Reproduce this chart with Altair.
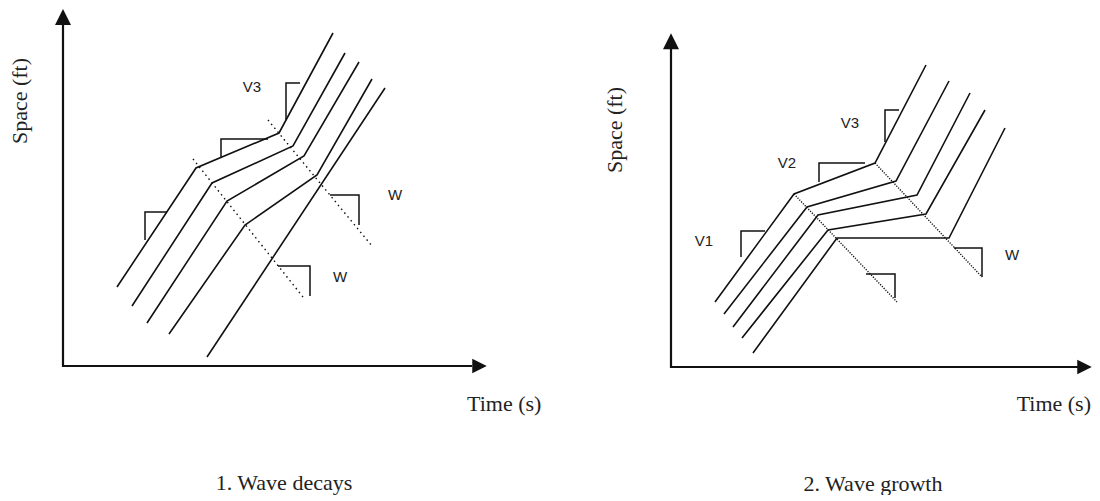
import altair as alt
import pandas as pd

# ---------------- Panel 1: wave decays (time t, space s; origin at axis corner) -------------
P1_LINES_T = [[54, 133, 216, 270], [69, 149, 230, 282], [84, 164, 241, 296], [106, 182, 254, 309], [144, 322]]
P1_LINES_S = [[79, 198, 233, 333], [60, 183, 220, 313], [43, 165, 210, 304], [32, 141, 191, 287], [9, 278]]
P1_DOTS_T = [[130, 240], [205, 309]]
P1_DOTS_S = [[207, 69], [246, 120]]
P1_BRACKETS_T = [[82, 82, 104], [158, 158, 205], [223, 223, 237], [267, 296, 296], [215, 247, 247]]
P1_BRACKETS_S = [[126, 154, 154], [208, 227, 227], [246, 283, 283], [171, 171, 141], [100, 100, 70]]
P1_LABELS = ["V3", "W", "W"]
P1_LABELS_T = [189, 332, 277]
P1_LABELS_S = [279, 171, 89]
P1_AXIS_T = [0, 0, 409]
P1_AXIS_S = [342, 0, 0]
P1_ARROW_UP = (0, 349)
P1_ARROW_RIGHT = (416.5, 0)
P1_DOMAIN_T = [-55, 527]
P1_DOMAIN_S = [-127, 358]
P1_WIDTH = 582
P1_YTITLE = (-36, 265)
P1_XTITLE = (404, -45)
P1_CAPTION = "1. Wave decays"
P1_CAPTION_POS = (221, -124)

# ---------------- Panel 2: wave growth -------------
P2_LINES_T = [[44, 123, 204, 255], [53, 136, 225, 278], [62, 147, 246, 299], [71, 157, 255, 314], [82, 166, 278, 334]]
P2_LINES_S = [[65, 173, 204, 302], [53, 160, 186, 286], [40, 152, 172, 274], [29, 137, 153, 257], [14, 129, 129, 239]]
P2_DOTS_T = [[123, 226], [204, 311]]
P2_DOTS_S = [[173, 65], [204, 90]]
P2_BRACKETS_T = [[70, 70, 94], [148, 148, 194], [214, 214, 228], [283, 311, 311], [195, 224, 224]]
P2_BRACKETS_S = [[110, 136, 136], [185, 204, 204], [225, 257, 257], [119, 119, 90], [93, 93, 69]]
P2_LABELS = ["V1", "V2", "V3", "W"]
P2_LABELS_T = [33, 116, 179, 341]
P2_LABELS_S = [126, 204, 244, 112]
P2_AXIS_T = [0, 0, 407]
P2_AXIS_S = [318, 0, 0]
P2_ARROW_UP = (0, 325.7)
P2_ARROW_RIGHT = (413.5, 0)
P2_DOMAIN_T = [-81, 421]
P2_DOMAIN_S = [-126, 359]
P2_WIDTH = 502
P2_YTITLE = (-49, 237)
P2_XTITLE = (420, -44)
P2_CAPTION = "2. Wave growth"
P2_CAPTION_POS = (202, -124)

HEIGHT = 485
INK = "#111111"
SERIF = "Liberation Serif"
SANS = "Liberation Sans"


def polylines(ts, ss):
    rows = []
    for k, (tl, sl) in enumerate(zip(ts, ss)):
        for i, (t, s) in enumerate(zip(tl, sl)):
            rows.append({"id": k, "i": i, "t": t, "s": s})
    return pd.DataFrame(rows)


def panel(lines_t, lines_s, dots_t, dots_s, br_t, br_s, labels, lab_t, lab_s,
          axis_t, axis_s, arrow_up, arrow_right, dom_t, dom_s, width,
          ytitle, xtitle, xtitle_align, caption, caption_pos, dash):
    X = lambda: alt.X("t:Q", scale=alt.Scale(domain=dom_t, nice=False, zero=False), axis=None)
    Y = lambda: alt.Y("s:Q", scale=alt.Scale(domain=dom_s, nice=False, zero=False), axis=None)

    solid = alt.Chart(polylines(lines_t, lines_s)).mark_line(
        color=INK, strokeWidth=1.6, strokeCap="butt", strokeJoin="miter"
    ).encode(x=X(), y=Y(), detail="id:N", order="i:Q")

    dotted = alt.Chart(polylines(dots_t, dots_s)).mark_line(
        color=INK, strokeWidth=1.4, strokeDash=dash
    ).encode(x=X(), y=Y(), detail="id:N", order="i:Q")

    brackets = alt.Chart(polylines(br_t, br_s)).mark_line(
        color=INK, strokeWidth=1.5, strokeCap="butt", strokeJoin="miter"
    ).encode(x=X(), y=Y(), detail="id:N", order="i:Q")

    axes = alt.Chart(polylines([axis_t], [axis_s])).mark_line(
        color=INK, strokeWidth=2.2, strokeCap="butt", strokeJoin="miter"
    ).encode(x=X(), y=Y(), detail="id:N", order="i:Q")

    up = alt.Chart(pd.DataFrame({"t": [arrow_up[0]], "s": [arrow_up[1]]})).mark_point(
        shape="M-1,1L0,-1L1,1Z", filled=True, size=256, color=INK, opacity=1, strokeWidth=0
    ).encode(x=X(), y=Y())

    right = alt.Chart(pd.DataFrame({"t": [arrow_right[0]], "s": [arrow_right[1]]})).mark_point(
        shape="M-1,-1L1,0L-1,1Z", filled=True, size=210, color=INK, opacity=1, strokeWidth=0
    ).encode(x=X(), y=Y())

    lab = alt.Chart(pd.DataFrame({"label": labels, "t": lab_t, "s": lab_s})).mark_text(
        font=SANS, fontSize=15, color="#222222", align="center", baseline="middle"
    ).encode(x=X(), y=Y(), text="label:N")

    ytl = alt.Chart(pd.DataFrame({"label": ["Space (ft)"], "t": [ytitle[0]], "s": [ytitle[1]]})).mark_text(
        font=SERIF, fontSize=22, color="#222222", align="center", baseline="alphabetic", angle=270
    ).encode(x=X(), y=Y(), text="label:N")

    xtl = alt.Chart(pd.DataFrame({"label": ["Time (s)"], "t": [xtitle[0]], "s": [xtitle[1]]})).mark_text(
        font=SERIF, fontSize=22, color="#222222", align=xtitle_align, baseline="alphabetic"
    ).encode(x=X(), y=Y(), text="label:N")

    cap = alt.Chart(pd.DataFrame({"label": [caption], "t": [caption_pos[0]], "s": [caption_pos[1]]})).mark_text(
        font=SERIF, fontSize=22, color="#222222", align="center", baseline="alphabetic"
    ).encode(x=X(), y=Y(), text="label:N")

    return alt.layer(axes, up, right, solid, dotted, brackets, lab, ytl, xtl, cap).properties(
        width=width, height=HEIGHT
    )


p1 = panel(P1_LINES_T, P1_LINES_S, P1_DOTS_T, P1_DOTS_S, P1_BRACKETS_T, P1_BRACKETS_S,
           P1_LABELS, P1_LABELS_T, P1_LABELS_S, P1_AXIS_T, P1_AXIS_S, P1_ARROW_UP, P1_ARROW_RIGHT,
           P1_DOMAIN_T, P1_DOMAIN_S, P1_WIDTH, P1_YTITLE, P1_XTITLE, "left",
           P1_CAPTION, P1_CAPTION_POS, [1.5, 3.5])
p2 = panel(P2_LINES_T, P2_LINES_S, P2_DOTS_T, P2_DOTS_S, P2_BRACKETS_T, P2_BRACKETS_S,
           P2_LABELS, P2_LABELS_T, P2_LABELS_S, P2_AXIS_T, P2_AXIS_S, P2_ARROW_UP, P2_ARROW_RIGHT,
           P2_DOMAIN_T, P2_DOMAIN_S, P2_WIDTH, P2_YTITLE, P2_XTITLE, "right",
           P2_CAPTION, P2_CAPTION_POS, [1.2, 1.4])

chart = alt.hconcat(p1, p2, spacing=0).properties(padding=0, background="white").configure_view(stroke=None)

chart.save("out.html", embed_options={"renderer": "svg", "actions": False})
